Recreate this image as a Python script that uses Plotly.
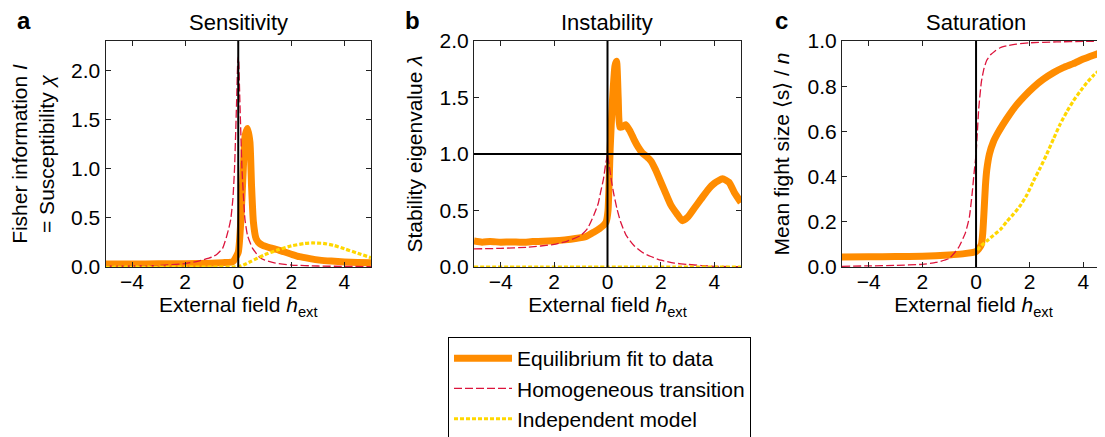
import plotly.graph_objects as go

# ---- data ----
# panel a: sensitivity (Fisher information / susceptibility)
a_fit_x = [-5, -4, -3, -2, -1, -0.5, -0.2, 0, 0.1, 0.19, 0.26, 0.35, 0.44, 0.5, 0.57, 0.67,
           0.8, 0.92, 1.2, 1.55, 2.0, 2.3, 2.7, 3.06, 3.5, 4, 4.5, 5]
a_fit_y = [0.03, 0.03, 0.032, 0.034, 0.038, 0.045, 0.055, 0.15, 0.49, 1.0, 1.34, 1.41, 1.27, 0.83,
           0.46, 0.29, 0.24, 0.22, 0.195, 0.17, 0.13, 0.105, 0.085, 0.07, 0.06, 0.052, 0.047, 0.044]
a_hom_x = [-5, -4, -3, -2, -1.5, -1, -0.8, -0.59, -0.45, -0.35, -0.28, -0.2, -0.14, -0.06, -0.02,
           0, 0.02, 0.06, 0.14, 0.2, 0.25, 0.35, 0.54, 0.8, 1.0, 1.4, 2, 3, 4, 5]
a_hom_y = [0.008, 0.01, 0.015, 0.035, 0.06, 0.1, 0.13, 0.19, 0.3, 0.4, 0.49, 0.7, 1.0, 1.7, 2.08,
           2.14, 2.08, 1.7, 1.0, 0.7, 0.49, 0.32, 0.19, 0.1, 0.07, 0.04, 0.02, 0.01, 0.006, 0.004]
a_ind_x = [-5, -2, -1, 0, 0.2, 0.5, 1.0, 1.5, 2.0, 2.5, 2.8, 3.2, 3.6, 4.0, 4.5, 5]
a_ind_y = [0, 0, 0, 0.002, 0.02, 0.06, 0.125, 0.175, 0.215, 0.24, 0.245, 0.24, 0.22, 0.185, 0.14, 0.095]

# panel b: instability (stability eigenvalue)
b_fit_x = [-5, -4.7, -4.4, -4, -3.6, -3.2, -2.8, -2.4, -2, -1.6, -1.2, -0.8, -0.5, -0.3, -0.14,
           -0.05, 0.02, 0.06, 0.1, 0.18, 0.28, 0.34, 0.4, 0.46, 0.55, 0.68, 0.85, 0.99, 1.15, 1.3,
           1.45, 1.62, 1.8, 2.0, 2.2, 2.37, 2.6, 2.8, 3.0, 3.25, 3.5, 3.75, 4.0, 4.31, 4.55, 4.75, 5]
b_fit_y = [0.23, 0.22, 0.225, 0.22, 0.222, 0.218, 0.225, 0.228, 0.232, 0.24, 0.252, 0.27, 0.31,
           0.34, 0.37, 0.4, 0.5, 0.75, 1.05, 1.45, 1.78, 1.82, 1.5, 1.24, 1.24, 1.26, 1.2, 1.13,
           1.06, 1.01, 0.98, 0.94, 0.86, 0.75, 0.64, 0.55, 0.47, 0.41, 0.44, 0.52, 0.6, 0.68, 0.74,
           0.78, 0.75, 0.66, 0.57]
b_hom_x = [-5, -4, -3, -2, -1.5, -1, -0.75, -0.51, -0.35, -0.26, -0.15, -0.07, -0.02, 0, 0.02,
           0.07, 0.15, 0.24, 0.35, 0.49, 0.7, 0.99, 1.3, 1.6, 2.0, 2.5, 3, 3.5, 4, 5]
b_hom_y = [0.16, 0.165, 0.175, 0.2, 0.23, 0.28, 0.34, 0.46, 0.56, 0.66, 0.78, 0.91, 0.97, 1.0, 0.97,
           0.89, 0.76, 0.64, 0.52, 0.4, 0.28, 0.19, 0.13, 0.095, 0.06, 0.035, 0.023, 0.013, 0.006, 0.002]
b_ind_x = [-5, -2.5, 0, 2.5, 5]
b_ind_y = [0, 0, 0, 0, 0]

# panel c: saturation (mean fight size)
c_fit_x = [-5, -4, -3, -2, -1, -0.5, 0, 0.1, 0.2, 0.25, 0.3, 0.35, 0.4, 0.5, 0.65, 0.8, 1.0,
           1.25, 1.5, 1.8, 2.14, 2.5, 2.89, 3.25, 3.63, 4.0, 4.38, 4.81]
c_fit_y = [0.044, 0.045, 0.046, 0.048, 0.053, 0.058, 0.068, 0.08, 0.1, 0.15, 0.25, 0.36, 0.43,
           0.5, 0.555, 0.59, 0.63, 0.675, 0.715, 0.755, 0.795, 0.83, 0.86, 0.882, 0.9, 0.92, 0.937, 0.955]
c_hom_x = [-5, -4, -3, -2, -1.5, -1, -0.66, -0.4, -0.25, -0.15, -0.07, 0, 0.05, 0.1, 0.2, 0.3,
           0.4, 0.55, 0.7, 0.9, 1.2, 1.5, 2, 3, 4, 4.81]
c_hom_y = [0.003, 0.005, 0.007, 0.012, 0.02, 0.038, 0.085, 0.15, 0.22, 0.32, 0.42, 0.5, 0.6, 0.7,
           0.82, 0.88, 0.915, 0.94, 0.955, 0.97, 0.98, 0.986, 0.992, 0.996, 0.998, 0.999]
c_ind_x = [0.05, 0.15, 0.4, 0.65, 0.9, 1.14, 1.4, 1.64, 1.9, 2.14, 2.4, 2.64, 2.9, 3.13, 3.4,
           3.63, 3.9, 4.13, 4.4, 4.81]
c_ind_y = [0.075, 0.09, 0.115, 0.14, 0.165, 0.2, 0.235, 0.27, 0.32, 0.38, 0.44, 0.5, 0.57, 0.63,
           0.69, 0.735, 0.78, 0.815, 0.85, 0.89]

x_tickvals = [-4, -2, 0, 2, 4]
x_ticktext = ['\u22124', '2', '0', '2', '4']
titles = ['Sensitivity', 'Instability', 'Saturation']
letters = ['a', 'b', 'c']
names = ['Equilibrium fit to data', 'Homogeneous transition', 'Independent model']

ORANGE = '#FF8C00'
RED = '#DC143C'
GOLD = '#FFD700'
FONT = 'Liberation Sans, Arial, Helvetica, sans-serif'
FS = 21

# the page body has an 8px margin, so the figure is shifted; layout is given in page pixels
OFF = 8
W, H = 1105 - OFF, 437 - OFF


def px(p):
    return (p - OFF) / W


def py(p):
    return (H - (p - OFF)) / H


panels = [
    (a_fit_x, a_fit_y, a_hom_x, a_hom_y, a_ind_x, a_ind_y),
    (b_fit_x, b_fit_y, b_hom_x, b_hom_y, b_ind_x, b_ind_y),
    (c_fit_x, c_fit_y, c_hom_x, c_hom_y, c_ind_x, c_ind_y),
]

fig = go.Figure()

for i, (fx, fy, hx, hy, ix, iy) in enumerate(panels):
    xa = 'x' if i == 0 else f'x{i + 1}'
    ya = 'y' if i == 0 else f'y{i + 1}'
    first = i == 0
    fig.add_trace(go.Scatter(x=fx, y=fy, mode='lines', name=names[0], legendgroup='fit',
                             line=dict(color=ORANGE, width=7, shape='spline', smoothing=0.5),
                             showlegend=first, xaxis=xa, yaxis=ya))
    fig.add_trace(go.Scatter(x=hx, y=hy, mode='lines', name=names[1], legendgroup='hom',
                             line=dict(color=RED, width=1.3, dash='8px,3px', shape='spline', smoothing=0.5),
                             showlegend=first, xaxis=xa, yaxis=ya))
    fig.add_trace(go.Scatter(x=ix, y=iy, mode='lines', name=names[2], legendgroup='ind',
                             line=dict(color=GOLD, width=3.2, dash='4px,2px', shape='spline', smoothing=0.5),
                             showlegend=first, xaxis=xa, yaxis=ya))

# axis boxes in page pixels
x_doms = [(105.5, 371), (474, 741), (842, 1105)]
y_dom = [py(267), py(41)]
x_ranges = [[-5, 5], [-5, 5], [-5, 4.81]]
y_ranges = [[0, 2.3], [0, 2.0], [0, 1.0]]
y_ticks = [[0, 0.5, 1.0, 1.5, 2.0], [0, 0.5, 1.0, 1.5, 2.0], [0, 0.2, 0.4, 0.6, 0.8, 1.0]]
y_titles = ['Fisher information <i>I</i><br>= Susceptibility <i>\u03c7</i>',
            'Stability eigenvalue <i>\u03bb</i>',
            'Mean fight size \u27e8s\u27e9 / <i>n</i>']
y_standoff = [13, 11, 12]

axis_common = dict(showgrid=False, zeroline=False, showline=True, linecolor='#222', linewidth=1,
                   ticks='inside', ticklen=5, tickwidth=1, tickcolor='#222', automargin=False,
                   tickfont=dict(family=FONT, size=FS, color='black'))

layout = {}
for i in range(3):
    sx = '' if i == 0 else str(i + 1)
    layout[f'xaxis{sx}'] = dict(axis_common, domain=[px(x_doms[i][0]), min(1.0, px(x_doms[i][1]))],
                                range=x_ranges[i], tickmode='array', tickvals=x_tickvals,
                                ticktext=x_ticktext, mirror='ticks', anchor=f'y{sx}',
                                ticklabelstandoff=-4,
                                title=dict(text='External field <i>h</i><sub>ext</sub>',
                                           font=dict(family=FONT, size=FS, color='black'), standoff=0))
    layout[f'yaxis{sx}'] = dict(axis_common, domain=y_dom, range=y_ranges[i], tickmode='array',
                                tickvals=y_ticks[i], tickformat='.1f',
                                mirror='ticks' if i < 2 else False, anchor=f'x{sx}',
                                title=dict(text=y_titles[i], standoff=y_standoff[i],
                                           font=dict(family=FONT, size=FS, color='black')))

shapes = []
for i in range(3):
    sx = '' if i == 0 else str(i + 1)
    shapes.append(dict(type='line', xref=f'x{sx}', yref=f'y{sx} domain', x0=0, x1=0, y0=0, y1=1,
                       line=dict(color='black', width=2)))
shapes.append(dict(type='line', xref='x2 domain', yref='y2', x0=0, x1=1, y0=1, y1=1,
                   line=dict(color='black', width=2)))

annotations = []
title_cx = [238, 607, 976]
for i in range(3):
    annotations.append(dict(text=titles[i], xref='paper', yref='paper', x=px(title_cx[i]),
                            y=py(22), showarrow=False,
                            font=dict(family=FONT, size=22, color='black'),
                            xanchor='center', yanchor='middle'))
letter_x = [24, 412, 781]
for i in range(3):
    annotations.append(dict(text=f'<b>{letters[i]}</b>', xref='paper', yref='paper',
                            x=px(letter_x[i]), y=py(21), showarrow=False,
                            font=dict(family=FONT, size=24, color='black'),
                            xanchor='center', yanchor='middle'))

fig.update_layout(
    width=W, height=H,
    margin=dict(l=0, r=0, t=0, b=0, autoexpand=False),
    plot_bgcolor='white', paper_bgcolor='white',
    font=dict(family=FONT, size=FS, color='black'),
    shapes=shapes, annotations=annotations,
    legend=dict(x=px(448), y=py(337), xanchor='left', yanchor='top',
                bordercolor='black', borderwidth=1, bgcolor='white',
                font=dict(family=FONT, size=FS, color='black'),
                traceorder='grouped', tracegroupgap=0, itemwidth=58),
    **layout,
)

fig.write_html('out.html')
